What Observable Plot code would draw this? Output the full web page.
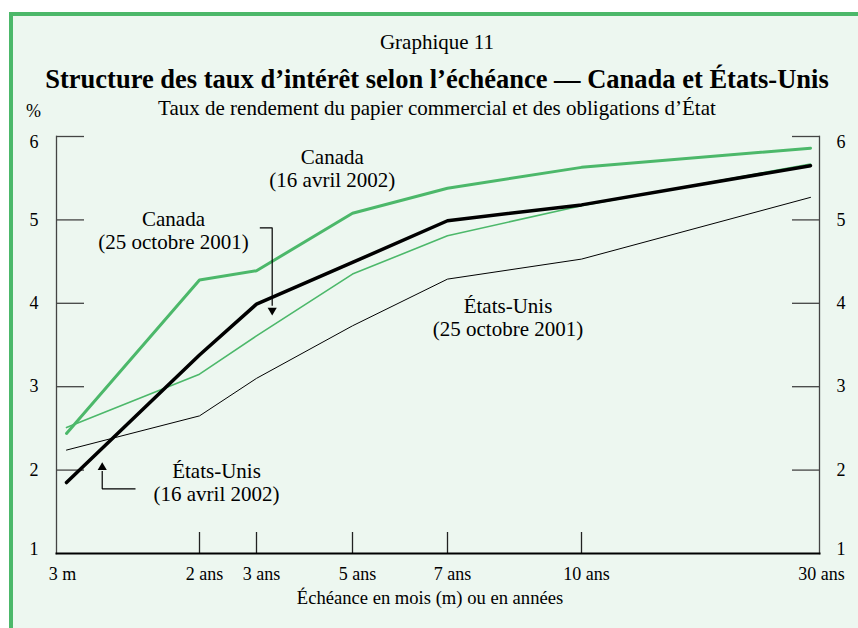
<!DOCTYPE html>
<html><head><meta charset="utf-8">
<script src="https://cdn.jsdelivr.net/npm/d3@7"></script>
<script src="https://cdn.jsdelivr.net/npm/@observablehq/plot@0.6"></script>
<style>
html,body{margin:0;padding:0;overflow:hidden}
body{background:#fff;width:858px;height:628px;position:relative;font-family:"Liberation Serif","Times New Roman",serif;}
#frame{position:absolute;left:9px;top:12px;width:849px;height:616px;border-top:4px solid #4cb86a;border-left:4px solid #4cb86a;background:#edf7f0;box-sizing:border-box}
.t{position:absolute;left:16px;width:842px;text-align:center;white-space:nowrap;color:#000}
#g{top:32px;font-size:21px;line-height:21px}
#title{top:66px;font-size:26.5px;line-height:26.5px;font-weight:bold}
#sub{top:98px;font-size:21px;line-height:21px}
#pct{position:absolute;left:26px;top:102px;font-size:18px;line-height:18px}
#chart{position:absolute;left:0;top:124px}
#chart svg text{font-family:"Liberation Serif","Times New Roman",serif}
</style>
</head><body>
<div id="frame"></div>
<div class="t" id="g">Graphique 11</div>
<div class="t" id="title">Structure des taux d’intérêt selon l’échéance — Canada et États-Unis</div>
<div class="t" id="sub">Taux de rendement du papier commercial et des obligations d’État</div>
<div id="pct">%</div>
<div id="chart"></div>
<script>
// ---- data ----
const maturityYears = [0.25, 2, 3, 5, 7, 10, 30];
const maturityLabels = ["3 m", "2 ans", "3 ans", "5 ans", "7 ans", "10 ans", "30 ans"];
const canadaApr2002 = [2.44, 4.28, 4.39, 5.08, 5.38, 5.63, 5.86];
const canadaOct2001 = [2.51, 3.15, 3.61, 4.35, 4.81, 5.17, 5.67];
const usApr2002    = [1.85, 3.38, 3.99, 4.49, 4.99, 5.18, 5.65];
const usOct2001    = [2.24, 2.65, 3.10, 3.73, 4.29, 4.53, 5.27];
const yTicks = [1, 2, 3, 4, 5, 6];
const xAxisLabel = "Échéance en mois (m) ou en années";
const annotationTexts = ["Canada\n(16 avril 2002)", "Canada\n(25 octobre 2001)", "États-Unis\n(25 octobre 2001)", "États-Unis\n(16 avril 2002)"];

// ---- layout / style (annotation anchors in data units) ----
const annotationAnchors = [[4.58, 5.616], [1.658, 4.88], [8.354, 3.836], [2.298, 1.853]];
const arrowCanada = [[3.069, 4.905], [3.327, 4.905], [3.327, 3.97]];
const arrowCanadaTip = [3.327, 3.916];
const arrowUS = [[1.158, 1.776], [0.72, 1.776], [0.72, 1.99]];
const arrowUSTip = [0.72, 2.032];
const xRange = [66, 199, 256, 352, 447, 581, 810];

const GREEN = "#4cb86a";
const FONT = "'Liberation Serif', 'Times New Roman', serif";
const mk = vals => maturityYears.map((m, i) => ({m, v: vals[i]}));
const labelOf = d => maturityLabels[maturityYears.indexOf(d)];
const ann = annotationTexts.map((t, i) => ({t, x: annotationAnchors[i][0], y: annotationAnchors[i][1]}));
const lab = {fontSize: 18, fontFamily: FONT, fill: "#000", label: null, tickSize: 0};
const yLab = (anchor, ticks, dy) => Plot.axisY({...lab, anchor, ticks, dy, tickPadding: anchor === "left" ? 18 : 17, tickFormat: d => String(d)});

const chart = Plot.plot({
  width: 858, height: 504,
  marginLeft: 56, marginRight: 39, marginTop: 12, marginBottom: 75,
  style: {background: "transparent", fontFamily: FONT, fontSize: "18px", color: "#000"},
  x: {type: "linear", domain: maturityYears, range: xRange},
  y: {domain: [1, 6]},
  marks: [
    // axes lines
    Plot.frame({anchor: "left", stroke: "#444", strokeWidth: 1.3}),
    Plot.frame({anchor: "right", stroke: "#444", strokeWidth: 1.3}),
    // inward tick marks
    Plot.axisY({anchor: "left", ticks: yTicks.slice(1), tickSize: 28, dx: 28, fill: "none", stroke: "#444", strokeWidth: 1.3, label: null}),
    Plot.axisY({anchor: "right", ticks: yTicks.slice(1), tickSize: 28, dx: -28, fill: "none", stroke: "#444", strokeWidth: 1.3, label: null}),
    Plot.axisX({anchor: "bottom", ticks: maturityYears.slice(1, 6), tickSize: 21, dy: -21, fill: "none", stroke: "#222", strokeWidth: 1.3, label: null}),
    // tick labels
    yLab("left", yTicks.slice(1, 5), 0), yLab("left", [yTicks[5]], 6), yLab("left", [yTicks[0]], -4),
    yLab("right", yTicks.slice(1, 5), 0), yLab("right", [yTicks[5]], 6), yLab("right", [yTicks[0]], -4),
    Plot.axisX({...lab, anchor: "bottom", ticks: maturityYears.slice(1, 6), tickPadding: 14, dx: 5, tickFormat: labelOf}),
    Plot.axisX({...lab, anchor: "bottom", ticks: [maturityYears[0]], tickPadding: 14, dx: -4, tickFormat: labelOf}),
    Plot.axisX({...lab, anchor: "bottom", ticks: [maturityYears[6]], tickPadding: 14, dx: 11, tickFormat: labelOf}),
    Plot.text([xAxisLabel], {frameAnchor: "bottom", dy: 50, dx: -8, text: d => d, fontSize: 18.6, fontFamily: FONT, fill: "#000"}),
    Plot.frame({anchor: "bottom", stroke: "#000", strokeWidth: 2}),
    // series
    Plot.line(mk(usOct2001), {x: "m", y: "v", stroke: "#000", strokeWidth: 1}),
    Plot.line(mk(canadaOct2001), {x: "m", y: "v", stroke: GREEN, strokeWidth: 1.6}),
    Plot.line(mk(usApr2002), {x: "m", y: "v", stroke: "#000", strokeWidth: 3.5}),
    Plot.line(mk(canadaApr2002), {x: "m", y: "v", stroke: GREEN, strokeWidth: 3}),
    // annotations
    Plot.text(ann, {x: "x", y: "y", text: "t", fontSize: 21, fontFamily: FONT, lineHeight: 1.1, fill: "#000"}),
    Plot.line(arrowCanada, {x: d => d[0], y: d => d[1], stroke: "#000", strokeWidth: 1.2, strokeLinecap: "butt", strokeLinejoin: "miter"}),
    Plot.dot([arrowCanadaTip], {x: d => d[0], y: d => d[1], symbol: "triangle", r: 3.4, fill: "#000", rotate: 180}),
    Plot.line(arrowUS, {x: d => d[0], y: d => d[1], stroke: "#000", strokeWidth: 1.2, strokeLinecap: "butt", strokeLinejoin: "miter"}),
    Plot.dot([arrowUSTip], {x: d => d[0], y: d => d[1], symbol: "triangle", r: 3.4, fill: "#000"})
  ]
});
document.getElementById("chart").appendChild(chart);
</script>
</body></html>
